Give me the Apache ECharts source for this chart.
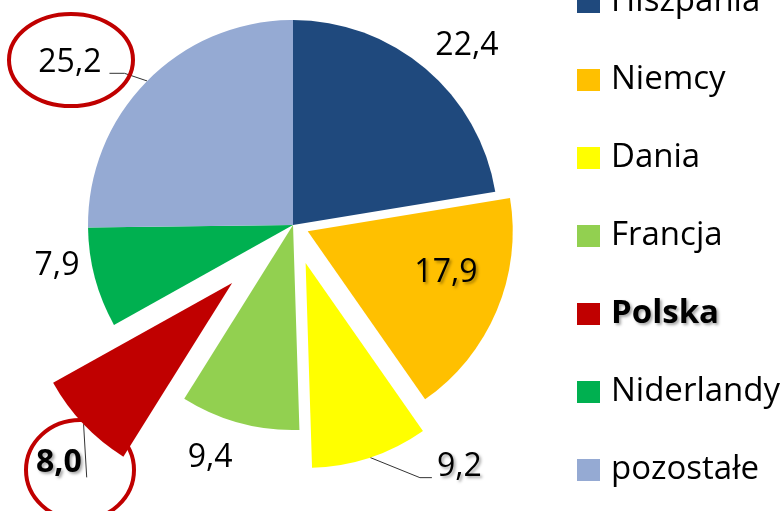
<!DOCTYPE html>
<html><head><meta charset="utf-8">
<script src="https://cdn.jsdelivr.net/npm/echarts@6/dist/echarts.min.js"></script>
<style>html,body{margin:0;padding:0;background:#fff}#c{width:784px;height:511px}</style>
</head><body><div id="c"></div>
<script>
const categories = ['Hiszpania','Niemcy','Dania','Francja','Polska','Niderlandy','pozostałe'];
const values = [22.4, 17.9, 9.2, 9.4, 8.0, 7.9, 25.2];
const colors = ['#1F497D','#FFC000','#FFFF00','#92D050','#C00000','#00B050','#95AAD3'];
// which slices are pulled out, and by how much (px)
const groupOffsets = [0, 16, 40, 84];
const groupMembers = [[0,3,5,6],[1],[2],[4]];
// label styling per slice
const labelPos = ['outside','inside','outside','outside','outside','outside','outside'];
const labelLineMode = ['none','none','left','none','down','none','right'];
const labelBold = [false,false,false,false,true,false,false];
const labelShadow = [false,true,true,false,true,false,false];
const labelShift = [[-15,-11],[41,1],[47,-5],[12,21],[24,28],[14,-16],[-20,-8]];

const FONT = 'Open Sans';
const FS = 32;
const PIE_C = [293, 225];
const PIE_R = 205;
const fmt = v => v.toFixed(1).replace('.', ',');

const total = values.reduce((a, b) => a + b, 0);
function midAngle(k) {
  let before = 0;
  for (let i = 0; i < k; i++) before += values[i];
  return (before + values[k] / 2) / total * 2 * Math.PI; // clockwise from 12 o'clock
}
function groupCenter(g) {
  const off = groupOffsets[g];
  if (!off) return PIE_C.slice();
  const a = midAngle(groupMembers[g][0]);
  return [PIE_C[0] + off * Math.sin(a), PIE_C[1] - off * Math.cos(a)];
}

function buildData(members) {
  return categories.map((name, i) => {
    const on = members.indexOf(i) >= 0;
    return {
      name: name, value: values[i],
      itemStyle: { color: on ? colors[i] : 'rgba(0,0,0,0)' },
      label: on ? {
        show: true, position: labelPos[i],
        fontWeight: labelBold[i] ? 'bold' : 'normal',
        textShadowColor: labelShadow[i] ? 'rgba(0,0,0,0.35)' : 'transparent',
        textShadowBlur: labelShadow[i] ? 3 : 0,
        textShadowOffsetX: labelShadow[i] ? 2 : 0,
        textShadowOffsetY: labelShadow[i] ? 2 : 0
      } : { show: false },
      labelLine: { show: on && labelLineMode[i] !== 'none' }
    };
  });
}

function layoutLabel(p) {
  const i = p.dataIndex;
  const s = labelShift[i];
  const out = { dx: s[0], dy: s[1] };
  const mode = labelLineMode[i];
  if (mode !== 'none' && p.labelLinePoints && p.labelRect) {
    const r = p.labelRect;
    const x = r.x + s[0], y = r.y + s[1];
    const base = y + r.height / 2 + FS * 0.34;
    const anchor = p.labelLinePoints[0];
    if (mode === 'left') {
      out.labelLinePoints = [anchor, [x - 17, base], [x - 5, base]];
    } else if (mode === 'right') {
      out.labelLinePoints = [anchor, [x + r.width + 23, base], [x + r.width + 8, base]];
    } else {
      out.labelLinePoints = [anchor, [x + r.width + 5, base + 4], [x + r.width + 5, base + 4]];
    }
  }
  return out;
}

const series = groupOffsets.map((off, g) => ({
  type: 'pie',
  center: groupCenter(g),
  radius: [0, PIE_R],
  startAngle: 90,
  clockwise: true,
  silent: true,
  animation: false,
  avoidLabelOverlap: false,
  emphasis: { disabled: true },
  label: {
    fontFamily: FONT, fontSize: FS, color: '#000',
    formatter: p => fmt(p.value)
  },
  labelLine: { length: 15, length2: 10, lineStyle: { color: '#333', width: 1 } },
  labelLayout: layoutLabel,
  data: buildData(groupMembers[g])
}));

const legendData = categories.map((name, i) => ({
  name: name,
  icon: 'rect',
  itemStyle: { color: colors[i] },
  textStyle: name === 'Polska'
    ? { fontWeight: 'bold', textShadowColor: 'rgba(0,0,0,0.35)', textShadowBlur: 3, textShadowOffsetX: 2, textShadowOffsetY: 2 }
    : {}
}));

const chart = echarts.init(document.getElementById('c'), null, { renderer: 'canvas' });
chart.setOption({
  backgroundColor: '#fff',
  animation: false,
  legend: {
    orient: 'vertical', left: 572, top: -23,
    itemWidth: 23, itemHeight: 22, itemGap: 38,
    selectedMode: false,
    textStyle: { fontFamily: FONT, fontSize: 33, color: '#000', lineHeight: 40, padding: [0,0,0,6] },
    data: legendData
  },
  graphic: [
    { type: 'ellipse', shape: { cx: 71, cy: 60, rx: 62, ry: 46 }, style: { fill: 'none', stroke: '#C00000', lineWidth: 4 }, z: 100 },
    { type: 'ellipse', shape: { cx: 80, cy: 470, rx: 54, ry: 50 }, style: { fill: 'none', stroke: '#C00000', lineWidth: 4 }, z: 100 }
  ],
  series: series
});
</script></body></html>
